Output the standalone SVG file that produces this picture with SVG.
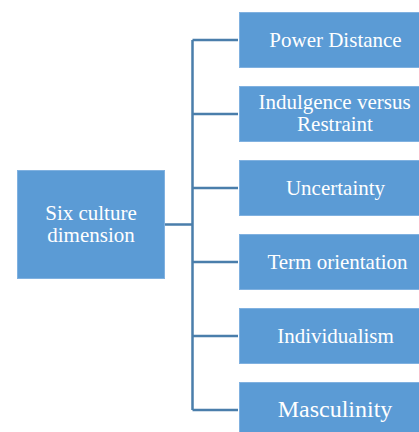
<svg xmlns="http://www.w3.org/2000/svg" width="419" height="432" viewBox="0 0 419 432">
<style>
.box{fill:#5b9bd5;stroke:#80b1e0;stroke-width:1}
.t{font-family:'Liberation Serif',serif;font-size:21px;fill:#ffffff;text-anchor:middle}
.c{stroke:#4a7eab;stroke-width:2.5;fill:none}
</style>
<rect width="419" height="432" fill="#ffffff"/>
<g id="connectors">
<path class="c" d="M165,224.5 H192.5 M192.5,40 V410 M192.5,40 H238 M192.5,114 H238 M192.5,188 H238 M192.5,262 H238 M192.5,336 H238 M192.5,410 H238"/>
</g>
<g id="root">
<rect class="box" x="17.5" y="170.5" width="147" height="108"/>
<text class="t" x="91" y="220">Six culture</text>
<text class="t" x="91" y="242">dimension</text>
</g>
<g id="power-distance">
<rect class="box" x="239.5" y="12.5" width="194" height="55"/>
<text class="t" x="335.5" y="46.5">Power Distance</text>
</g>
<g id="indulgence">
<rect class="box" x="239.5" y="86.5" width="194" height="55"/>
<text class="t" x="334.5" y="109">Indulgence versus</text>
<text class="t" x="335" y="131">Restraint</text>
</g>
<g id="uncertainty">
<rect class="box" x="239.5" y="160.5" width="194" height="55"/>
<text class="t" x="335.5" y="194.5">Uncertainty</text>
</g>
<g id="term-orientation">
<rect class="box" x="239.5" y="234.5" width="194" height="55"/>
<text class="t" x="337.5" y="268.5">Term orientation</text>
</g>
<g id="individualism">
<rect class="box" x="239.5" y="308.5" width="194" height="55"/>
<text class="t" x="335.5" y="342.5">Individualism</text>
</g>
<g id="masculinity">
<rect class="box" x="239.5" y="382.5" width="194" height="55"/>
<text class="t" x="335" y="417" style="font-size:24px">Masculinity</text>
</g>
</svg>
